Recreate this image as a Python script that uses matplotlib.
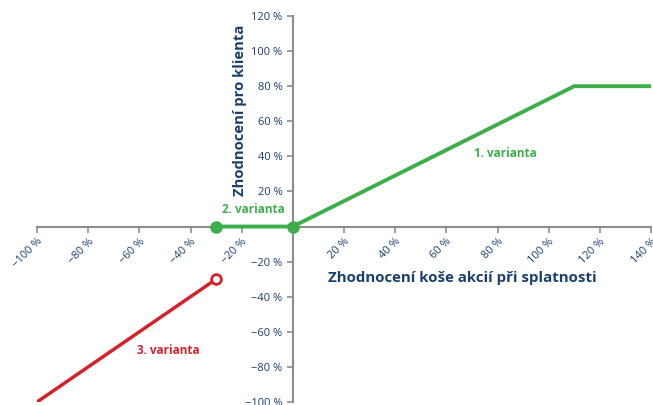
import matplotlib
matplotlib.use("Agg")
import matplotlib.pyplot as plt

# Data
green_x = [-30, 0, 110, 140]
green_y = [0, 0, 80, 80]
green_markers_x = [-30, 0]
green_markers_y = [0, 0]
red_x = [-100, -30]
red_y = [-100, -30]
x_ticks = [-100, -80, -60, -40, -20, 20, 40, 60, 80, 100, 120, 140]
y_ticks = [-100, -80, -60, -40, -20, 20, 40, 60, 80, 100, 120]

GREEN = "#3dae49"
RED = "#d3222a"
NAVY = "#1b3f6e"
GRAY = "#8c8c8c"

plt.rcParams['font.family'] = ['Open Sans', 'DejaVu Sans']

fig = plt.figure(figsize=(6.53, 4.05), dpi=100)
ax = fig.add_axes([37/653, 1-402/405, (651-37)/653, (402-16)/405])
ax.set_xlim(-100, 140)
ax.set_ylim(-100, 120)

def px_x(p):
    return -100 + (p - 37) / 2.558

def px_y(p):
    return (226.5 - p) / 1.755

for s in ['top', 'right']:
    ax.spines[s].set_visible(False)
ax.spines['left'].set_position(('data', 0))
ax.spines['bottom'].set_position(('data', 0))
for s in ['left', 'bottom']:
    ax.spines[s].set_color(GRAY)
    ax.spines[s].set_linewidth(1.5)

ax.plot(green_x, green_y, color=GREEN, lw=2.8, solid_capstyle='butt', zorder=3)
ax.plot(green_markers_x, green_markers_y, 'o', color=GREEN, ms=8, zorder=4)
ax.plot(red_x, red_y, color=RED, lw=2.5, zorder=3)
ax.plot([red_x[-1]], [red_y[-1]], 'o', mfc='white', mec=RED, mew=2, ms=7, zorder=4)

def fmt(v):
    return ("\u2212%d %%" % -v) if v < 0 else ("%d %%" % v)

ax.set_xticks(x_ticks)
ax.set_xticklabels([fmt(v) for v in x_ticks],
                   rotation=45, ha='right', va='top', rotation_mode='anchor')
ax.set_yticks(y_ticks)
ax.set_yticklabels([fmt(v) for v in y_ticks])
ax.tick_params(axis='both', colors=GRAY, labelcolor=NAVY, labelsize=8, length=4, width=1.2)
ax.tick_params(axis='x', pad=3)

ax.text(px_x(462), px_y(278), "Zhodnocení koše akcií při splatnosti",
        color=NAVY, fontsize=10.8, fontweight='bold', ha='center', va='center')
ax.text(px_x(240), px_y(110), "Zhodnocení pro klienta", color=NAVY, fontsize=10.7,
        fontweight='bold', rotation=90, ha='center', va='center')

ax.text(px_x(505), px_y(153), "1. varianta", color=GREEN, fontsize=8.5,
        fontweight='bold', ha='center', va='center')
ax.text(px_x(253), px_y(209), "2. varianta", color=GREEN, fontsize=8.5,
        fontweight='bold', ha='center', va='center')
ax.text(px_x(168), px_y(350), "3. varianta", color=RED, fontsize=8.5,
        fontweight='bold', ha='center', va='center')

fig.savefig("out.png", dpi=100)
